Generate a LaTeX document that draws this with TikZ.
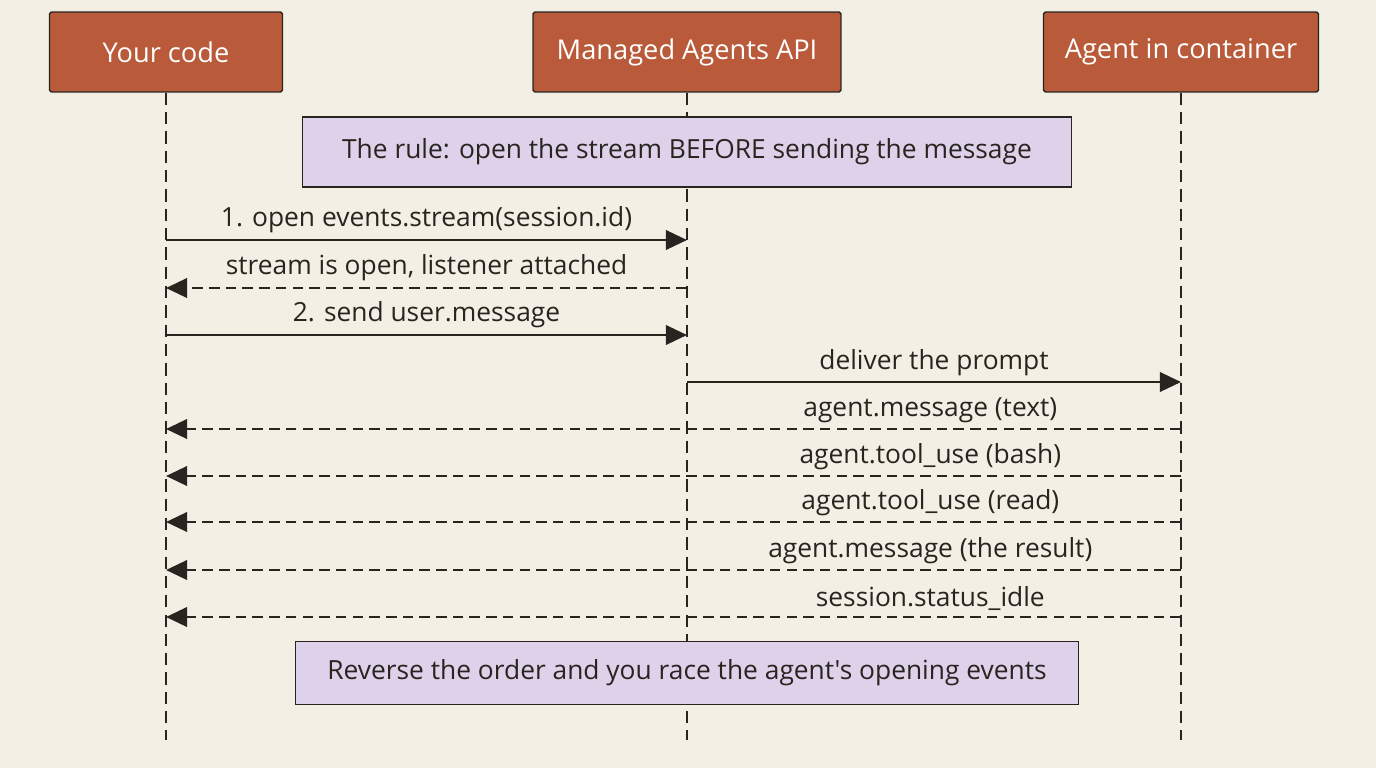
\documentclass[tikz,border=0pt]{standalone}
\usepackage{fontspec}
\setmainfont{Open Sans}[Ligatures=TeXOff]
\usetikzlibrary{arrows.meta}
\definecolor{bgcol}{HTML}{F4EFE4}
\definecolor{actorcol}{HTML}{B95B3A}
\definecolor{notecol}{HTML}{DED1EA}
\definecolor{inkcol}{HTML}{2A2420}
\begin{document}
\begin{tikzpicture}[x=0.02cm,y=-0.02cm,
    actor/.style={draw=inkcol, thick, fill=actorcol, text=white, rounded corners=1pt,
        minimum height=1.6cm, font=\fontsize{15.5}{18}\selectfont},
    note/.style={draw=inkcol, thick, fill=notecol, text=inkcol, minimum height=1.4cm,
        font=\fontsize{15}{18}\selectfont},
    life/.style={draw=inkcol, line width=1.1pt, dash pattern=on 7pt off 4pt},
    msg/.style={draw=inkcol, line width=1.6pt, -{Triangle[length=12pt,width=11pt]}},
    reply/.style={msg, dash pattern=on 6pt off 3.5pt},
    lbl/.style={text=inkcol, font=\fontsize{15}{18}\selectfont, above, inner sep=3pt},
  ]
  \fill[bgcol] (0,0) rectangle (1376,768);
  \useasboundingbox (0,0) rectangle (1376,768);

  % participants
  \node[actor, minimum width=4.66cm] (code) at (166,52) {Your code};
  \node[actor, minimum width=6.16cm] (api) at (687,52) {Managed Agents API};
  \node[actor, minimum width=5.5cm] (agent) at (1181,52) {Agent in container};

  % lifelines
  \coordinate (code_end) at (166,740);
  \coordinate (api_end) at (687,740);
  \coordinate (agent_end) at (1181,740);
  \draw[life] (code) -- (code_end);
  \draw[life] (api) -- (api_end);
  \draw[life] (agent) -- (agent_end);

  % notes
  \node[note, minimum width=15.38cm] (rule) at (687,152) {The rule: open the stream BEFORE sending the message};
  \node[note, minimum width=15.66cm, minimum height=1.26cm] (warn) at (687,673) {Reverse the order and you race the agent's opening events};

  % messages
  \foreach \y/\from/\to/\st/\p/\txt in {
      240/166/687/msg/0.5/{1. open events.stream(session.id)},
      288/687/166/reply/0.5/{stream is open, listener attached},
      335/166/687/msg/0.5/{2. send user.message},
      382/687/1181/msg/0.5/{deliver the prompt},
      429/1181/166/reply/0.247/{agent.message (text)},
      476/1181/166/reply/0.247/{agent.tool\_use (bash)},
      522/1181/166/reply/0.247/{agent.tool\_use (read)},
      570/1181/166/reply/0.247/{agent.message (the result)},
      617/1181/166/reply/0.247/{session.status\_idle}} {
    \coordinate (s\y) at (\from,\y);
    \coordinate (t\y) at (\to,\y);
    \draw[\st] (s\y) -- node[lbl, pos=\p] {\txt} (t\y);
  }
\end{tikzpicture}
\end{document}
